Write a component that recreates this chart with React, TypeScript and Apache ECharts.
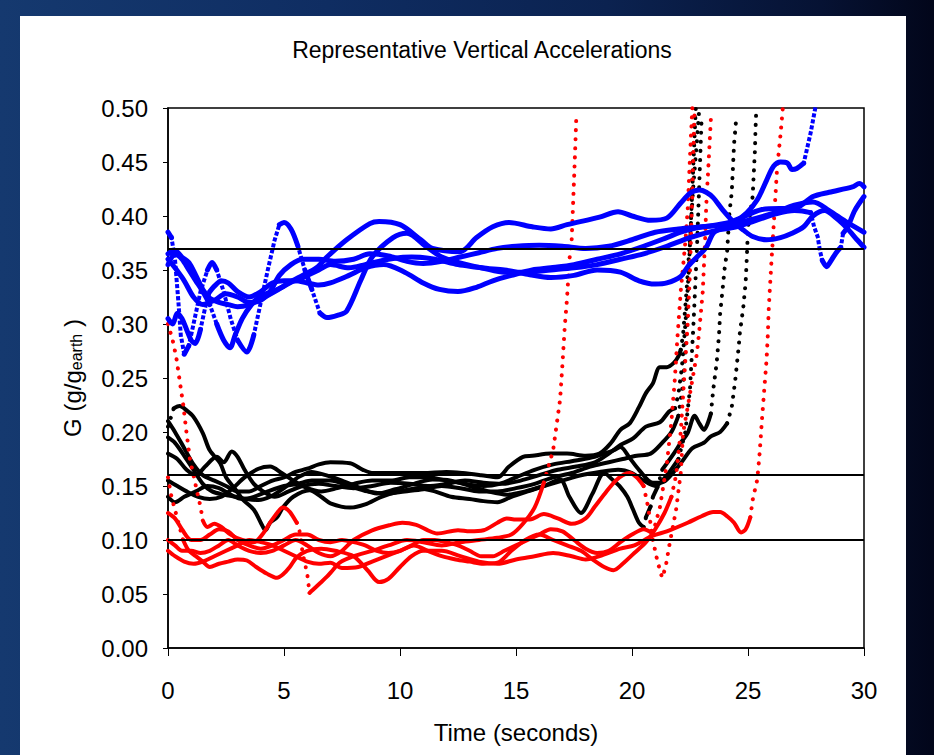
import React, { useEffect, useRef } from "react";
import * as echarts from "echarts";

type Pt = [number, number];

// ---- data (time s, G) ----
const blue1: Pt[] = [[0,0.365],[0.3,0.368],[0.6,0.362],[0.9,0.357],[1.2,0.345],[1.5,0.332],[1.8,0.324],[2.2,0.32],[2.6,0.318],[3.0,0.316],[3.5,0.318],[4,0.323],[4.6,0.33],[5.2,0.338],[5.8,0.345],[6.4,0.352],[6.85,0.362],[7.7,0.378],[8.7,0.393],[9.1,0.395],[10,0.392],[10.9,0.378],[11.4,0.37],[12.6,0.367],[13.3,0.38],[14,0.39],[14.7,0.394],[15.7,0.39],[16.5,0.388],[17.2,0.392],[18.6,0.399],[19.4,0.404],[20,0.4],[20.8,0.396],[21.5,0.398],[22.1,0.412],[22.5,0.421],[22.9,0.424],[23.2,0.422],[23.5,0.417],[23.9,0.406],[24.4,0.394],[24.8,0.387],[25.2,0.381],[25.8,0.378],[26.4,0.38],[26.9,0.384],[27.4,0.39],[27.8,0.4],[28.3,0.405],[28.8,0.398],[29.3,0.388],[29.7,0.378],[30,0.371]];
const blue2: Pt[] = [[0,0.385],[0.15,0.38],[0.3,0.36],[0.45,0.32],[0.55,0.29],[0.7,0.272],[0.9,0.28],[1.1,0.3],[1.4,0.33],[1.7,0.35],[1.9,0.357],[2.1,0.35],[2.4,0.33],[2.7,0.305],[3.0,0.285],[3.4,0.274],[3.7,0.29],[4,0.32],[4.3,0.35],[4.6,0.378],[4.8,0.392],[5.0,0.394],[5.3,0.388],[5.6,0.372],[5.9,0.35],[6.2,0.332],[6.55,0.31],[6.85,0.306],[7.3,0.308],[7.7,0.312],[8.3,0.34],[8.8,0.362],[9.7,0.38],[10.3,0.384],[11.1,0.372],[11.8,0.362],[12.5,0.357],[13.5,0.352],[14.5,0.35],[15.5,0.346],[16.5,0.343],[17.5,0.345],[18.5,0.35],[19.5,0.348],[20.3,0.34],[21,0.337],[21.5,0.338],[22.1,0.344],[22.4,0.353],[22.8,0.362],[23.2,0.371],[23.5,0.384],[23.9,0.389],[24.4,0.394],[24.95,0.403],[25.4,0.415],[25.8,0.433],[26.1,0.446],[26.4,0.45],[26.7,0.449],[26.9,0.443],[27.1,0.444],[27.4,0.449],[27.5,0.458],[27.7,0.477],[27.9,0.5]];
const blue3: Pt[] = [[0,0.305],[0.2,0.3],[0.4,0.31],[0.6,0.305],[0.8,0.295],[1.0,0.285],[1.17,0.282],[1.4,0.295],[1.6,0.315],[1.8,0.33],[2.0,0.335],[2.3,0.34],[2.6,0.338],[3,0.33],[3.5,0.325],[4,0.33],[4.5,0.338],[5,0.34],[5.5,0.34],[6,0.345],[6.5,0.35],[7,0.355],[7.8,0.352],[8.5,0.355],[9.5,0.36],[10.5,0.362],[11.5,0.36],[12.5,0.355],[13.5,0.352],[14.5,0.348],[15.5,0.348],[16.5,0.35],[17.5,0.352],[18.5,0.355],[19.5,0.36],[20.5,0.365],[21.5,0.372],[22.5,0.38],[23.5,0.386],[24.5,0.39],[25.5,0.397],[26.2,0.402],[27,0.405],[27.5,0.404],[27.7,0.403],[27.85,0.39],[28,0.381],[28.1,0.368],[28.2,0.359],[28.4,0.353],[28.5,0.356],[28.8,0.366],[29,0.371],[29.1,0.384],[29.3,0.39],[29.6,0.405],[30,0.418]];
const blue4: Pt[] = [[0,0.355],[0.3,0.365],[0.6,0.36],[0.9,0.35],[1.2,0.34],[1.5,0.33],[1.8,0.318],[2.1,0.3],[2.4,0.285],[2.67,0.278],[2.9,0.29],[3.2,0.305],[3.6,0.318],[4,0.326],[4.5,0.33],[5,0.335],[5.5,0.34],[6,0.338],[6.5,0.336],[7,0.338],[7.8,0.345],[8.5,0.352],[9.3,0.355],[10.2,0.348],[11,0.338],[11.7,0.332],[12.5,0.33],[13.3,0.334],[14,0.34],[14.8,0.345],[15.7,0.35],[16.5,0.352],[17.5,0.355],[18.5,0.36],[19.5,0.365],[20.5,0.372],[21.5,0.38],[22.1,0.385],[22.8,0.389],[24.2,0.394],[25.6,0.406],[27.1,0.408],[27.8,0.418],[28.5,0.422],[29.5,0.427],[29.8,0.43],[30,0.427]];
const blue5: Pt[] = [[0,0.36],[0.3,0.352],[0.7,0.34],[1.1,0.325],[1.5,0.318],[2,0.322],[2.5,0.328],[3,0.325],[3.5,0.32],[4,0.322],[4.4,0.33],[4.8,0.345],[5.3,0.355],[5.8,0.36],[6.5,0.36],[7.2,0.358],[8,0.36],[8.7,0.365],[9.5,0.363],[10.3,0.358],[11,0.356],[11.8,0.358],[12.6,0.362],[13.4,0.366],[14.2,0.37],[15,0.372],[16,0.373],[17,0.372],[18,0.37],[19,0.372],[20,0.378],[21,0.385],[22,0.388],[23,0.39],[24,0.392],[25,0.396],[26,0.402],[27,0.41],[27.8,0.413],[28.5,0.405],[29.2,0.395],[30,0.385]];

const black1: Pt[] = [[0,0.205],[0.25,0.222],[0.5,0.224],[0.8,0.22],[1.1,0.214],[1.5,0.199],[1.8,0.183],[2.25,0.171],[2.5,0.158],[2.9,0.147],[3.25,0.137],[3.7,0.128],[4.0,0.116],[4.2,0.109],[4.4,0.116],[4.7,0.121],[4.95,0.13],[5.4,0.14],[6.1,0.146],[6.6,0.14],[7,0.134],[7.85,0.13],[8.5,0.133],[9.2,0.14],[10,0.145],[10.8,0.148],[11.5,0.145],[12.2,0.14],[13,0.138],[13.6,0.136],[14.2,0.135],[14.8,0.14],[15.5,0.145],[16.2,0.15],[16.9,0.156],[17.3,0.14],[17.8,0.125],[18.3,0.143],[18.8,0.162],[19.2,0.155],[19.5,0.149],[19.8,0.14],[20.05,0.128],[20.3,0.116],[20.5,0.112],[20.6,0.121],[20.8,0.131],[20.9,0.14],[21.1,0.149],[21.3,0.165],[21.8,0.18],[22.1,0.19],[22.4,0.199],[22.7,0.215],[22.9,0.208],[23.1,0.202],[23.4,0.217],[23.5,0.239],[23.65,0.264],[23.75,0.29],[23.8,0.31],[23.9,0.331],[24,0.353],[24.1,0.367],[24.2,0.403],[24.3,0.422],[24.4,0.467],[24.5,0.492]];
const black2: Pt[] = [[0,0.21],[0.3,0.2],[0.7,0.185],[1.1,0.17],[1.5,0.16],[2,0.155],[2.5,0.15],[3,0.145],[3.5,0.145],[4,0.15],[4.5,0.155],[5,0.158],[5.5,0.163],[6,0.166],[6.5,0.17],[7,0.172],[7.85,0.171],[8.4,0.165],[8.85,0.162],[9.9,0.162],[11,0.162],[12,0.163],[12.7,0.162],[13.5,0.16],[14.2,0.158],[14.7,0.168],[15.3,0.177],[15.7,0.178],[16.5,0.18],[17.2,0.18],[18,0.178],[18.6,0.18],[19.1,0.19],[19.5,0.202],[19.9,0.208],[20.3,0.223],[20.6,0.236],[20.9,0.245],[21.2,0.26],[21.5,0.26],[21.8,0.264],[22,0.27],[22.1,0.276],[22.2,0.29],[22.35,0.33],[22.5,0.38],[22.65,0.43],[22.8,0.47],[22.9,0.5]];
const black3: Pt[] = [[0,0.18],[0.4,0.175],[0.8,0.165],[1.2,0.16],[1.6,0.168],[2.1,0.177],[2.4,0.172],[2.75,0.182],[3.0,0.177],[3.3,0.165],[3.7,0.152],[4.1,0.145],[4.6,0.14],[5.2,0.145],[5.8,0.15],[6.5,0.152],[7.2,0.15],[8,0.148],[8.8,0.15],[9.6,0.153],[10.4,0.152],[11.2,0.15],[12,0.152],[12.8,0.155],[13.6,0.153],[14.4,0.152],[15.2,0.155],[16,0.16],[16.8,0.165],[17.6,0.168],[18.4,0.172],[19,0.18],[19.5,0.188],[20.05,0.194],[20.6,0.205],[21.2,0.209],[21.6,0.219],[21.85,0.222],[22.0,0.235],[22.15,0.26],[22.3,0.3],[22.45,0.35],[22.55,0.4],[22.65,0.45],[22.75,0.5]];
const black4: Pt[] = [[0,0.155],[0.4,0.15],[0.8,0.145],[1.3,0.14],[1.8,0.138],[2.3,0.14],[2.8,0.148],[3.3,0.158],[3.9,0.166],[4.4,0.168],[4.9,0.162],[5.4,0.155],[6,0.148],[6.6,0.145],[7.3,0.148],[8,0.152],[8.8,0.155],[9.6,0.155],[10.4,0.158],[11.2,0.158],[12,0.155],[12.8,0.152],[13.6,0.15],[14.3,0.152],[15,0.158],[15.8,0.165],[16.6,0.17],[17.4,0.173],[18.2,0.176],[18.8,0.18],[19.2,0.183],[19.5,0.186],[19.9,0.176],[20.3,0.165],[20.9,0.153],[21.2,0.153],[21.5,0.156],[22.1,0.171],[22.6,0.185],[23.1,0.19],[23.4,0.196],[23.8,0.2],[24.1,0.208],[24.3,0.223],[24.45,0.248],[24.6,0.279],[24.65,0.292],[24.8,0.316],[24.9,0.339],[24.95,0.362],[25,0.389],[25.2,0.418],[25.25,0.44],[25.3,0.461],[25.32,0.478],[25.35,0.495]];
const black5: Pt[] = [[0,0.14],[0.3,0.135],[0.7,0.14],[1.2,0.145],[1.7,0.15],[2.2,0.148],[2.7,0.142],[3.2,0.138],[3.7,0.14],[4.3,0.145],[5,0.15],[5.6,0.152],[6.2,0.155],[7,0.155],[7.8,0.15],[8.6,0.145],[9.4,0.143],[10.2,0.145],[11,0.147],[11.8,0.15],[12.6,0.148],[13.4,0.145],[14.2,0.145],[15,0.148],[15.8,0.152],[16.6,0.158],[17.4,0.162],[18.2,0.168],[19,0.172],[19.6,0.175],[20.2,0.178],[20.8,0.18],[21.3,0.19],[21.7,0.2],[22,0.215],[22.2,0.245],[22.35,0.29],[22.45,0.34],[22.55,0.4],[22.62,0.45],[22.7,0.495]];
const black6: Pt[] = [[0,0.195],[0.3,0.19],[0.7,0.178],[1.1,0.165],[1.5,0.152],[1.9,0.145],[2.4,0.142],[2.9,0.14],[3.4,0.138],[3.9,0.137],[4.4,0.14],[5,0.148],[5.6,0.158],[6.2,0.163],[6.8,0.16],[7.5,0.155],[8.3,0.148],[9,0.143],[9.8,0.147],[10.6,0.152],[11.4,0.156],[12.2,0.155],[13,0.15],[13.8,0.145],[14.6,0.142],[15.4,0.145],[16.2,0.15],[17,0.155],[17.8,0.16],[18.6,0.163],[19.4,0.165],[20,0.162],[20.5,0.155],[21,0.15],[21.5,0.16],[22,0.175],[22.3,0.2],[22.5,0.24],[22.65,0.3],[22.8,0.37],[22.9,0.43],[23.0,0.49]];

const red1: Pt[] = [[0,0.3],[0.2,0.285],[0.35,0.27],[0.5,0.248],[0.67,0.223],[0.8,0.199],[0.95,0.174],[1.1,0.16],[1.25,0.145],[1.4,0.131],[1.5,0.118],[1.7,0.112],[2,0.115],[2.3,0.112],[2.7,0.105],[3.2,0.1],[3.7,0.098],[4.1,0.106],[4.4,0.116],[4.7,0.125],[4.95,0.13],[5.25,0.126],[5.55,0.116],[5.7,0.106],[5.8,0.088],[6.0,0.069],[6.1,0.051],[6.25,0.054],[6.55,0.06],[6.85,0.066],[7.1,0.072],[7.4,0.079],[8,0.085],[8.8,0.09],[9.5,0.095],[10.3,0.1],[11,0.098],[11.8,0.095],[12.6,0.098],[13.4,0.1],[14.2,0.102],[14.8,0.105],[15.3,0.115],[15.8,0.13],[16.2,0.153],[16.6,0.183],[16.9,0.23],[17.0,0.262],[17.1,0.297],[17.2,0.324],[17.3,0.359],[17.4,0.378],[17.5,0.433],[17.55,0.461],[17.6,0.492]];
const red2: Pt[] = [[0,0.158],[0.15,0.14],[0.3,0.128],[0.5,0.112],[0.65,0.1],[0.9,0.09],[1.2,0.085],[1.5,0.08],[1.8,0.075],[2.2,0.078],[2.6,0.08],[3,0.082],[3.4,0.081],[3.8,0.075],[4.25,0.069],[4.7,0.065],[4.95,0.068],[5.25,0.075],[5.55,0.084],[6,0.09],[6.6,0.092],[7.2,0.09],[8,0.085],[8.6,0.072],[9.1,0.061],[9.5,0.064],[10,0.075],[10.5,0.085],[11,0.09],[11.8,0.09],[12.6,0.085],[13.4,0.08],[14.2,0.078],[15,0.082],[15.8,0.085],[16.6,0.088],[17.4,0.085],[18,0.082],[18.6,0.085],[19.5,0.092],[20.1,0.095],[20.9,0.104],[21.5,0.108],[22.4,0.116],[23,0.122],[23.5,0.126],[23.8,0.126],[24.1,0.122],[24.4,0.116],[24.7,0.107],[24.9,0.11],[25.1,0.121],[25.2,0.137],[25.4,0.156],[25.5,0.18],[25.6,0.211],[25.7,0.239],[25.8,0.267],[25.85,0.288],[25.9,0.317],[26,0.354],[26.1,0.389],[26.2,0.425],[26.25,0.443],[26.4,0.475],[26.5,0.5]];
const red3: Pt[] = [[0,0.1],[0.3,0.095],[0.6,0.09],[1,0.09],[1.4,0.088],[1.8,0.09],[2.2,0.095],[2.6,0.1],[3,0.095],[3.5,0.09],[4,0.088],[4.5,0.09],[5,0.095],[5.5,0.1],[6,0.095],[6.5,0.088],[7,0.085],[7.5,0.09],[8,0.1],[8.8,0.109],[9.6,0.114],[10.1,0.116],[10.7,0.114],[11.2,0.109],[11.6,0.106],[12.5,0.109],[13,0.108],[13.6,0.109],[14.2,0.116],[14.6,0.12],[15,0.119],[15.6,0.119],[16.2,0.124],[16.8,0.12],[17.4,0.115],[18,0.12],[18.4,0.131],[18.9,0.145],[19.3,0.155],[19.6,0.16],[19.9,0.162],[20.2,0.158],[20.5,0.15],[20.7,0.13],[20.9,0.1],[21.1,0.08],[21.3,0.065],[21.45,0.075],[21.6,0.094],[21.9,0.128],[22.1,0.162],[22.2,0.199],[22.4,0.223],[22.6,0.248],[22.8,0.273],[22.9,0.294],[23.05,0.33],[23.15,0.377],[23.2,0.41],[23.3,0.449],[23.4,0.49]];
const red4: Pt[] = [[0,0.125],[0.3,0.12],[0.6,0.11],[1,0.1],[1.4,0.1],[1.8,0.105],[2.2,0.11],[2.6,0.108],[3,0.1],[3.5,0.095],[4,0.092],[4.5,0.095],[5,0.1],[5.5,0.105],[6,0.105],[6.5,0.1],[7,0.098],[7.5,0.1],[8,0.098],[8.5,0.095],[9,0.09],[9.5,0.088],[10,0.09],[10.5,0.095],[11,0.1],[11.5,0.1],[12,0.098],[12.5,0.095],[13,0.09],[13.5,0.085],[14,0.085],[14.5,0.09],[15,0.095],[15.5,0.1],[16,0.105],[16.5,0.11],[17,0.108],[17.5,0.1],[18,0.092],[18.5,0.088],[19,0.09],[19.5,0.098],[20,0.105],[20.5,0.11],[20.9,0.106],[21.2,0.13],[21.5,0.17],[21.7,0.21],[21.85,0.25],[21.95,0.285],[22.1,0.33],[22.3,0.376],[22.4,0.406],[22.5,0.455],[22.6,0.5]];
const red5: Pt[] = [[0,0.09],[0.3,0.085],[0.7,0.08],[1.1,0.078],[1.5,0.08],[2,0.085],[2.5,0.09],[3,0.095],[3.5,0.1],[4,0.098],[4.5,0.095],[5,0.09],[5.5,0.085],[6,0.08],[6.5,0.078],[7,0.079],[7.5,0.074],[8.2,0.075],[8.8,0.08],[9.4,0.085],[10,0.09],[10.6,0.095],[11.2,0.09],[11.8,0.085],[12.4,0.082],[13,0.08],[13.6,0.078],[14.2,0.079],[14.8,0.09],[15.4,0.1],[16,0.105],[16.6,0.1],[17.2,0.095],[17.8,0.09],[18.3,0.082],[18.8,0.075],[19.2,0.072],[19.6,0.078],[20.1,0.088],[20.6,0.098],[21,0.11],[21.4,0.125],[21.7,0.14],[21.9,0.16],[22.1,0.2],[22.25,0.25],[22.4,0.3],[22.5,0.35],[22.6,0.42],[22.7,0.5]];

const blueCurves = [blue1, blue2, blue3, blue4, blue5];
const blackCurves = [black1, black2, black3, black4, black5, black6];
const redCurves = [red1, red2, red3, red4, red5];
const referenceLevels = [0.367, 0.16, 0.1];

const FONT = "'Liberation Sans', Arial, sans-serif";
const STEEP = 0.06;

function runs(pts: Pt[]) {
  const out: { steep: boolean; pts: Pt[] }[] = [];
  for (let i = 1; i < pts.length; i++) {
    const a = pts[i - 1], b = pts[i];
    const steep = Math.abs((b[1] - a[1]) / (b[0] - a[0])) > STEEP;
    const last = out[out.length - 1];
    if (last && last.steep === steep) last.pts.push(b);
    else out.push({ steep, pts: [a, b] });
  }
  return out;
}

function buildSeries(curves: Pt[][], color: string, width: number, dotW: number, gap: number, cap: string, z: number) {
  const s: any[] = [];
  curves.forEach((c) => {
    runs(c).forEach((r) => {
      s.push({
        type: "line",
        data: r.pts,
        showSymbol: false,
        symbol: "none",
        smooth: r.steep ? false : 0.3,
        silent: true,
        z,
        lineStyle: r.steep
          ? { color, width: dotW, type: [0.1, gap], cap }
          : { color, width, type: "solid", cap: "round", join: "round" },
      });
    });
  });
  return s;
}

export default function App() {
  const ref = useRef<HTMLDivElement>(null);
  useEffect(() => {
    if (!ref.current) return;
    const chart = echarts.init(ref.current, undefined, { renderer: "svg" });
    const series: any[] = [
      ...buildSeries(blackCurves, "#000000", 4, 4, 9, "round", 2),
      ...buildSeries(redCurves, "#ff0000", 4, 4, 9, "round", 3),
      ...buildSeries(blueCurves, "#0000ff", 5, 4, 6, "square", 4),
      {
        type: "line",
        data: [],
        silent: true,
        z: 6,
        markLine: {
          silent: true,
          symbol: "none",
          label: { show: false },
          lineStyle: { color: "#000", width: 2, type: "solid" },
          data: referenceLevels.map((v) => ({ yAxis: v })),
        },
      },
    ];
    chart.setOption({
      animation: false,
      backgroundColor: "transparent",
      graphic: [
        {
          type: "rect",
          z: -1,
          silent: true,
          shape: { x: 20, y: 16, width: 886, height: 739 },
          style: { fill: "#ffffff" },
        },
      ],
      title: {
        text: "Representative Vertical Accelerations",
        left: 477,
        top: 33,
        textAlign: "center",
        textStyle: { fontFamily: FONT, fontSize: 23, fontWeight: "normal", color: "#000" },
      },
      grid: {
        left: 168,
        top: 108,
        width: 696,
        height: 540,
        show: true,
        borderColor: "#000",
        borderWidth: 1.5,
        backgroundColor: "transparent",
      },
      xAxis: {
        type: "value",
        min: 0,
        max: 30,
        interval: 5,
        name: "Time (seconds)",
        nameLocation: "middle",
        nameGap: 72,
        nameTextStyle: { fontFamily: FONT, fontSize: 24, color: "#000" },
        axisLine: { lineStyle: { color: "#000", width: 1.5 } },
        axisTick: { show: true, length: 8, lineStyle: { color: "#000" } },
        axisLabel: { fontFamily: FONT, fontSize: 24, color: "#000", margin: 30 },
        splitLine: { show: false },
      },
      yAxis: {
        type: "value",
        min: 0,
        max: 0.5,
        interval: 0.05,
        name: "{a|G (g/g}{b|earth}{a| )}",
        nameLocation: "middle",
        nameRotate: 90,
        nameGap: 84,
        nameTextStyle: {
          fontFamily: FONT,
          color: "#000",
          rich: {
            a: { fontFamily: FONT, fontSize: 24, color: "#000" },
            b: { fontFamily: FONT, fontSize: 16, color: "#000", verticalAlign: "bottom", padding: [8, 0, 0, 0] },
          },
        },
        axisLine: { lineStyle: { color: "#000", width: 1.5 } },
        axisTick: { show: true, length: 5, lineStyle: { color: "#000" } },
        axisLabel: {
          fontFamily: FONT,
          fontSize: 24,
          color: "#000",
          margin: 20,
          formatter: (v: number) => v.toFixed(2),
        },
        splitLine: { show: false },
      },
      series,
    });
    return () => chart.dispose();
  }, []);
  return (
    <div
      style={{
        position: "fixed",
        left: 0,
        top: 0,
        width: 934,
        height: 755,
        background:
          "linear-gradient(90deg, #15396f 0%, #0f2d62 35%, #0b2250 65%, #061233 88%, #02061a 100%)",
      }}
    >
      <div ref={ref} style={{ width: 934, height: 755 }} />
    </div>
  );
}
